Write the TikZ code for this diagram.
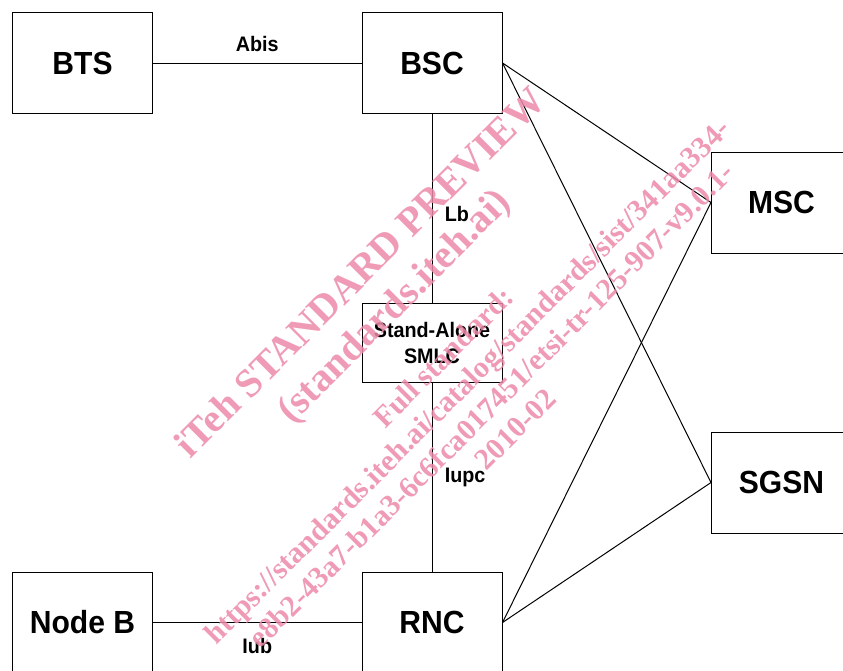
\documentclass[tikz,border=0pt]{standalone}
\usepackage{fontspec}
\setmainfont{Liberation Sans}[FakeStretch=0.94]
\newfontfamily\wmfont{Liberation Serif}
\usetikzlibrary{positioning}
\definecolor{wmpink}{RGB}{236,138,168}

\begin{document}
\begin{tikzpicture}[x=1pt,y=-1pt,
    box/.style={draw,line width=1pt,minimum width=140pt,minimum height=101pt,
      inner sep=0pt,font=\bfseries\fontsize{32}{38}\selectfont},
    lbl/.style={font=\bfseries\fontsize{21}{25}\selectfont},
    link/.style={line width=1pt},
    wm/.style={text=wmpink,opacity=0.85,rotate=45,align=center,inner sep=0pt}]
  \useasboundingbox (0,0) rectangle (843,670);

  % network elements
  \node [box] (bts) at (82.5,63) {BTS};
  \node [box] (bsc) at (432,63) {BSC};
  \node [box] (msc) at (781.5,202.5) {MSC};
  \node [box] (sgsn) at (781.5,482.5) {SGSN};
  \node [box,minimum height=79pt,align=center,
    font=\bfseries\fontsize{21}{26.7}\selectfont] (smlc) at (432,343)
    {Stand-Alone\\SMLC};
  \node [box] (nodeb) at (82.5,622.5) {Node B};
  \node [box] (rnc) at (432,622.5) {RNC};

  % interfaces
  \draw [link] (bts) -- node [lbl,above=7pt] {Abis} (bsc);
  \draw [link] (bsc) -- node [lbl,right=9pt,pos=0.53] {Lb} (smlc);
  \draw [link] (smlc) -- node [lbl,right=9pt] {Iupc} (rnc);
  \draw [link] (nodeb) -- node [lbl,below=12pt] {Iub} (rnc);
  \draw [link] (bsc.east) -- (msc.west);
  \draw [link] (bsc.east) -- (sgsn.west);
  \draw [link] (rnc.east) -- (msc.west);
  \draw [link] (rnc.east) -- (sgsn.west);

  % watermark
  \node [wm,font=\wmfont\bfseries\fontsize{40}{47}\selectfont] (wmtop) at (379,291)
    {iTeh STANDARD PREVIEW\\(standards.iteh.ai)};
  \node [wm,font=\wmfont\bfseries\fontsize{30}{34}\selectfont] (wmbot) at (479,393)
    {Full standard:\\https://standards.iteh.ai/catalog/standards/sist/341aa334-\\
     e8b2-43a7-b1a3-6c6fca017451/etsi-tr-125-907-v9.0.1-\\2010-02};
\end{tikzpicture}
\end{document}
